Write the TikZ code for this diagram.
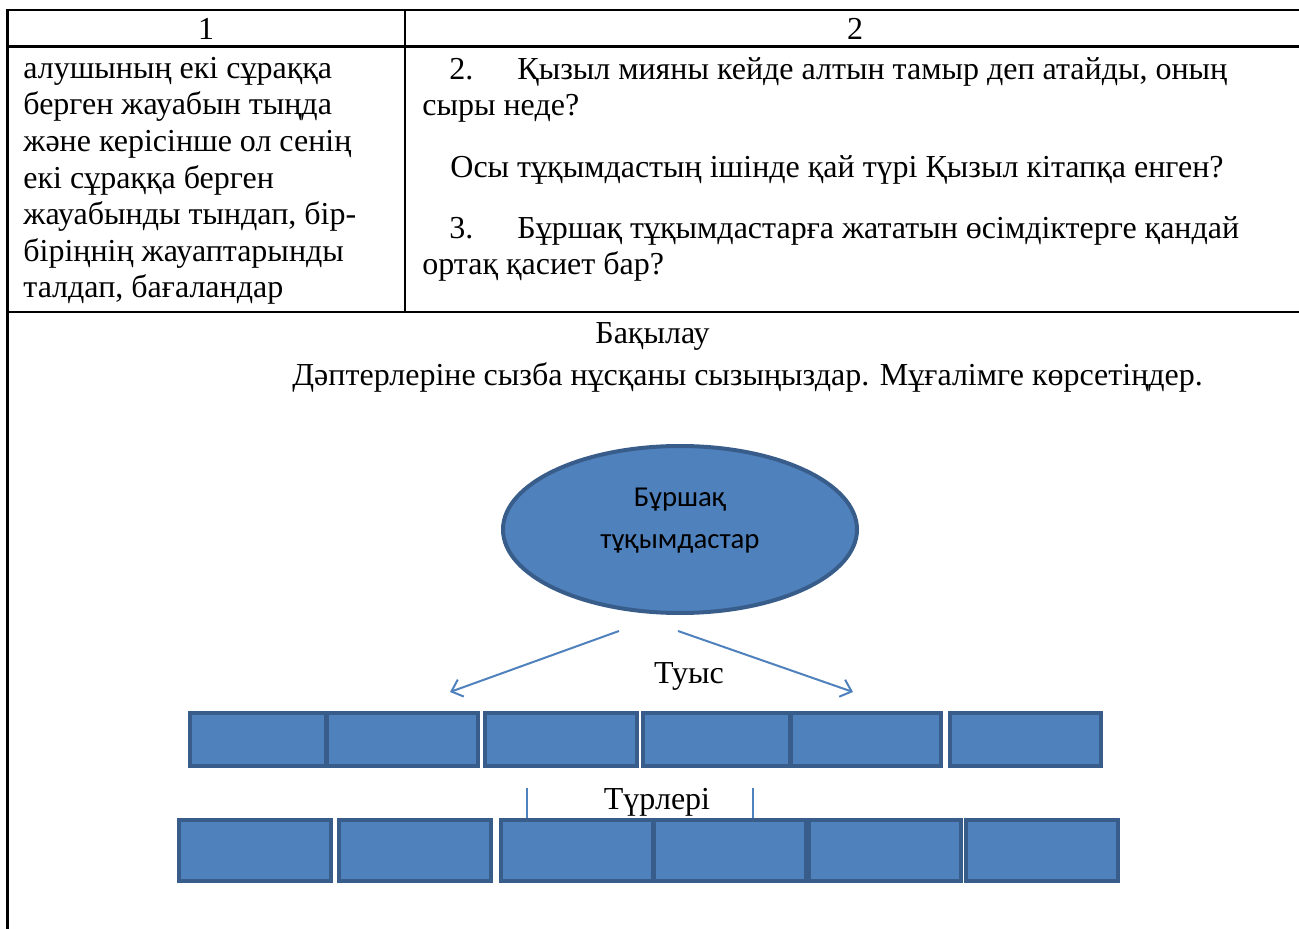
\documentclass[tikz,border=0pt]{standalone}
\usepackage{fontspec}
\setmainfont{Liberation Serif}
\newfontfamily\calibri{Carlito}
\usetikzlibrary{shapes.geometric,arrows.meta}

\begin{document}
\begin{tikzpicture}[x=0.5pt,y=-0.5pt]
%
\definecolor{col_fill}{rgb}{0.310,0.506,0.741}
\definecolor{col_edge}{rgb}{0.220,0.365,0.541}
\definecolor{col_line}{rgb}{0.310,0.506,0.741}
%
%
\tikzset{
  txt/.style={anchor=base west,inner sep=0pt,font=\fontsize{16}{19}\selectfont},
  ctxt/.style={anchor=base,inner sep=0pt,font=\fontsize{16}{19}\selectfont},
  box/.style={draw=col_edge,fill=col_fill,line width=2pt,inner sep=0pt},
  toprow/.style={box,minimum height=26.5pt},
  botrow/.style={box,minimum height=30.5pt,minimum width=76pt},
  arr/.style={draw=col_line,line width=1pt,-{Straight Barb[length=5pt,width=9pt]}},
  link/.style={draw=col_line,line width=1pt},
  rule/.style={line width=1.3pt}
}
%
\useasboundingbox (0,0) rectangle (1299,929);
%
% table
\draw[rule] (1299,10) -- (7.5,10) -- (7.5,929);
\draw[rule] (7.5,46.5) -- (1299,46.5);
\draw[rule] (7.5,312) -- (1299,312);
\draw[rule] (405,10) -- (405,312);
%
\node[ctxt] (h1) at (206,39.5) {1};
\node[ctxt] (h2) at (855,39.5) {2};
%
% column 1
\node[txt] (c1) at (23,78.5) {алушының екі сұраққа};
\node[txt] (c2) at (23,115) {берген жауабын тыңда};
\node[txt] (c3) at (23,151.7) {және керісінше ол сенің};
\node[txt] (c4) at (23,188.3) {екі сұраққа берген};
\node[txt] (c5) at (23,225) {жауабынды тындап, бір-};
\node[txt] (c6) at (23,261.5) {біріңнің жауаптарынды};
\node[txt] (c7) at (23,298) {талдап, бағаландар};
%
% column 2
\node[txt] (q1) at (449,79.3) {\makebox[34pt][l]{2.}Қызыл мияны кейде алтын тамыр деп атайды, оның};
\node[txt] (q2) at (422,116) {сыры неде?};
\node[txt] (q3) at (450,177.3) {Осы тұқымдастың ішінде қай түрі Қызыл кітапқа енген?};
\node[txt] (q4) at (449,238.7) {\makebox[34pt][l]{3.}Бұршақ тұқымдастарға жататын өсімдіктерге қандай};
\node[txt] (q5) at (422,275) {ортақ қасиет бар?};
%
% lower cell
\node[txt] (title) at (595,344) {Бақылау};
\node[txt] (task) at (292,386) {Дәптерлеріне сызба нұсқаны сызыңыздар. Мұғалімге көрсетіңдер.};
%
% scheme
\node[ellipse,draw=col_edge,fill=col_fill,line width=2pt,inner sep=0pt,
      minimum width=177pt,minimum height=83.5pt] (fam) at (680,529.5) {};
\node[inner sep=0pt,align=center,font=\calibri\fontsize{14.4}{21}\selectfont] (famlab) at (680,521) {Бұршақ\\тұқымдастар};
%
\coordinate (la) at (619,631);
\coordinate (lb) at (450,692);
\coordinate (ra) at (678,631);
\coordinate (rb) at (853,692);
\draw[arr] (la) -- (lb);
\draw[arr] (ra) -- (rb);
\node[ctxt] (genus) at (689,683) {Туыс};
%
% genera
\node[toprow,minimum width=68pt] (t1) at (258,739.5) {};
\node[toprow,minimum width=75.5pt] (t2) at (402.5,739.5) {};
\node[toprow,minimum width=76pt] (t3) at (561,739.5) {};
\node[toprow,minimum width=73.5pt] (t4) at (716.5,739.5) {};
\node[toprow,minimum width=75pt] (t5) at (866,739.5) {};
\node[toprow,minimum width=75.5pt] (t6) at (1025.5,739.5) {};
%
\node[ctxt] (species) at (657,809) {Түрлері};
%
% species
\node[botrow] (s1) at (255,850.5) {};
\node[botrow] (s2) at (415,850.5) {};
\node[botrow] (s3) at (577,850.5) {};
\node[botrow] (s4) at (729.5,850.5) {};
\node[botrow] (s5) at (884.5,850.5) {};
\node[botrow] (s6) at (1041.5,850.5) {};
%
\coordinate (v1) at (527,788);
\coordinate (v2) at (753,788);
\draw[link] (v1) -- (v1 |- s3.north);
\draw[link] (v2) -- (v2 |- s4.north);
%
\end{tikzpicture}
\end{document}
